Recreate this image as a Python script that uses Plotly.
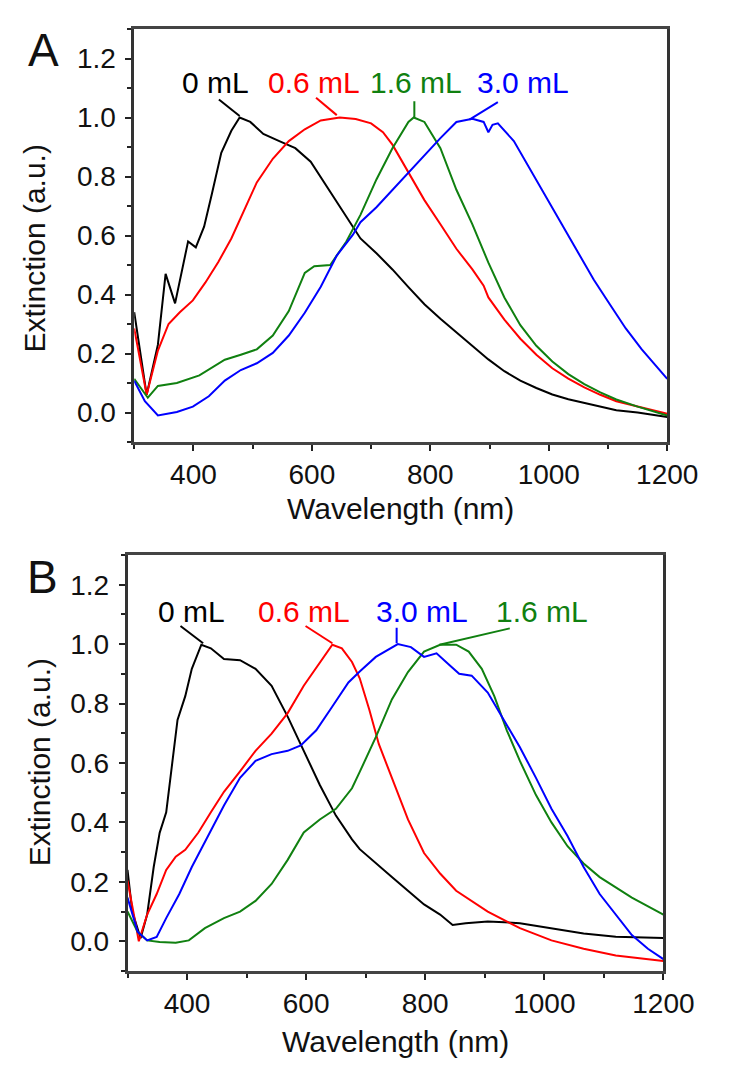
import plotly.graph_objects as go

# ---------------- Panel A data ----------------
a_black_wl = [300, 321, 340, 353, 369, 391, 404, 418, 431, 447, 464, 478, 496, 518, 545, 572, 598, 625, 652, 682,
              709, 736, 763, 790, 817, 844, 871, 898, 925, 952, 979, 1006, 1033, 1060, 1087, 1114, 1150, 1200]
a_black = [0.34, 0.06, 0.23, 0.47, 0.37, 0.58, 0.56, 0.63, 0.74, 0.88, 0.955, 1.0, 0.985, 0.944, 0.92, 0.896, 0.85,
           0.767, 0.685, 0.59, 0.54, 0.485, 0.425, 0.367, 0.318, 0.273, 0.225, 0.18, 0.14, 0.108, 0.083, 0.061,
           0.045, 0.032, 0.02, 0.008, 0.0, -0.015]

a_red_wl = [300, 321, 340, 358, 377, 399, 420, 442, 464, 485, 507, 534, 561, 588, 615, 647, 674, 700, 720, 736, 763,
            790, 817, 844, 871, 890, 898, 905, 925, 952, 979, 1006, 1033, 1060, 1087, 1114, 1150, 1200]
a_red = [0.285, 0.06, 0.21, 0.30, 0.34, 0.38, 0.44, 0.51, 0.59, 0.685, 0.78, 0.86, 0.92, 0.96, 0.99, 1.0, 0.995,
         0.98, 0.95, 0.908, 0.814, 0.72, 0.638, 0.555, 0.485, 0.43, 0.39, 0.37, 0.315, 0.25, 0.196, 0.15, 0.115,
         0.085, 0.06, 0.038, 0.02, -0.004]

a_green_wl = [300, 323, 340, 372, 410, 453, 480, 507, 534, 561, 588, 604, 631, 658, 682, 709, 736, 763, 772, 790,
              817, 844, 871, 898, 925, 952, 979, 1006, 1033, 1060, 1087, 1114, 1150, 1200]
a_green = [0.114, 0.05, 0.09, 0.10, 0.126, 0.179, 0.196, 0.214, 0.261, 0.344, 0.473, 0.496, 0.50, 0.579, 0.67,
           0.79, 0.896, 0.985, 1.0, 0.985, 0.896, 0.755, 0.638, 0.508, 0.39, 0.296, 0.226, 0.173, 0.13, 0.096,
           0.068, 0.044, 0.02, -0.01]

a_blue_wl = [300, 318, 340, 372, 399, 426, 453, 480, 507, 534, 561, 588, 615, 642, 669, 682, 709, 736, 763, 790,
             817, 844, 871, 890, 898, 905, 914, 941, 968, 995, 1022, 1049, 1076, 1103, 1130, 1157, 1200]
a_blue = [0.108, 0.038, -0.01, 0.002, 0.02, 0.055, 0.108, 0.144, 0.167, 0.202, 0.261, 0.338, 0.426, 0.532, 0.602,
          0.645, 0.696, 0.755, 0.814, 0.873, 0.93, 0.985, 0.996, 0.985, 0.95, 0.975, 0.98, 0.92, 0.826, 0.732,
          0.638, 0.544, 0.45, 0.367, 0.285, 0.214, 0.114]

# ---------------- Panel B data ----------------
b_black_wl = [300, 308, 322, 333, 344, 354, 365, 376, 384, 397, 408, 424, 440, 462, 489, 515, 542, 569, 596, 623,
              650, 677, 690, 717, 744, 771, 798, 825, 846, 868, 905, 959, 1012, 1066, 1120, 1200]
b_black = [0.24, 0.10, 0.01, 0.09, 0.25, 0.365, 0.434, 0.607, 0.745, 0.825, 0.917, 0.998, 0.986, 0.95, 0.946,
           0.917, 0.86, 0.756, 0.641, 0.526, 0.423, 0.343, 0.31, 0.262, 0.216, 0.17, 0.124, 0.09, 0.055, 0.061,
           0.067, 0.061, 0.044, 0.026, 0.015, 0.011]

b_red_wl = [300, 311, 319, 333, 349, 365, 381, 397, 419, 440, 462, 489, 515, 542, 569, 596, 623, 644, 660, 677,
            690, 706, 722, 744, 771, 798, 825, 852, 905, 959, 1012, 1066, 1120, 1200]
b_red = [0.205, 0.09, 0.0, 0.09, 0.159, 0.24, 0.285, 0.308, 0.366, 0.434, 0.503, 0.572, 0.641, 0.699, 0.768, 0.86,
         0.94, 0.998, 0.986, 0.94, 0.885, 0.78, 0.664, 0.55, 0.41, 0.297, 0.228, 0.17, 0.10, 0.044, 0.003, -0.025,
         -0.048, -0.066]

b_blue_wl = [300, 317, 333, 349, 365, 387, 408, 435, 462, 489, 515, 542, 569, 591, 617, 644, 671, 690, 717, 754,
             776, 798, 819, 841, 857, 878, 905, 932, 959, 986, 1012, 1039, 1066, 1093, 1120, 1147, 1174, 1200]
b_blue = [0.147, 0.032, 0.003, 0.015, 0.078, 0.159, 0.25, 0.354, 0.457, 0.55, 0.607, 0.63, 0.641, 0.659, 0.71,
          0.79, 0.871, 0.908, 0.957, 1.0, 0.99, 0.957, 0.969, 0.929, 0.9, 0.894, 0.837, 0.745, 0.653, 0.55, 0.446,
          0.354, 0.25, 0.159, 0.09, 0.021, -0.025, -0.06]

b_green_wl = [300, 317, 333, 354, 381, 403, 430, 462, 489, 515, 542, 569, 596, 623, 650, 677, 690, 717, 744, 771,
              798, 825, 852, 873, 895, 916, 937, 959, 986, 1012, 1039, 1066, 1093, 1120, 1147, 1200]
b_green = [0.10, 0.032, 0.003, -0.002, -0.005, 0.003, 0.044, 0.078, 0.10, 0.136, 0.193, 0.274, 0.366, 0.41, 0.446,
           0.515, 0.57, 0.687, 0.814, 0.906, 0.975, 0.998, 0.998, 0.975, 0.917, 0.825, 0.71, 0.607, 0.492, 0.40,
           0.32, 0.262, 0.216, 0.182, 0.147, 0.09]

# ---------------- Labels ----------------
labels = ["0 mL", "0.6 mL", "1.6 mL", "3.0 mL"]
colors = ["#000000", "#ff0000", "#108010", "#0000ff"]

a_label_x = [438, 604, 775, 957]
a_label_y = 1.12
a_leader = [(443, 1.061, 478, 1.005), (607, 1.067, 642, 1.008), (773, 1.055, 773, 1.002), (914, 1.052, 866, 0.993)]

b_label_x = [408, 596, 996, 795]
b_label_y = 1.11
b_leader = [(389, 1.061, 427, 1.003), (599, 1.061, 644, 1.003), (942, 1.053, 824, 0.998), (752, 1.055, 752, 1.003)]

FONT = "Liberation Sans, Arial, sans-serif"

fig = go.Figure()

panel_a = [(a_black_wl, a_black), (a_red_wl, a_red), (a_green_wl, a_green), (a_blue_wl, a_blue)]
panel_b = [(b_black_wl, b_black), (b_red_wl, b_red), (b_green_wl, b_green), (b_blue_wl, b_blue)]

for (x, y), c, name in zip(panel_a, colors, labels):
    fig.add_trace(go.Scatter(x=x, y=y, mode="lines", line=dict(color=c, width=2), name=name,
                             xaxis="x", yaxis="y", showlegend=False))
for (x, y), c, name in zip(panel_b, colors, labels):
    fig.add_trace(go.Scatter(x=x, y=y, mode="lines", line=dict(color=c, width=2), name=name,
                             xaxis="x2", yaxis="y2", showlegend=False))

ann = []
shapes = []
for lx, lead, c, t in zip(a_label_x, a_leader, colors, labels):
    ann.append(dict(x=lx, y=a_label_y, xref="x", yref="y", text=t, showarrow=False,
                    font=dict(size=30, color=c, family=FONT)))
    shapes.append(dict(type="line", xref="x", yref="y", x0=lead[0], y0=lead[1], x1=lead[2], y1=lead[3],
                       line=dict(color=c, width=2)))
for lx, lead, c, t in zip(b_label_x, b_leader, colors, labels):
    ann.append(dict(x=lx, y=b_label_y, xref="x2", yref="y2", text=t, showarrow=False,
                    font=dict(size=30, color=c, family=FONT)))
    shapes.append(dict(type="line", xref="x2", yref="y2", x0=lead[0], y0=lead[1], x1=lead[2], y1=lead[3],
                       line=dict(color=c, width=2)))

# panel letters and axis titles
W, H = 750, 1074
def px(xp, yp):
    return xp / W, 1 - yp / H

for txt, (xp, yp), size, ang in [("A", (45, 50), 46, 0), ("B", (44, 577), 46, 0),
                                  ("Extinction (a.u.)", (37, 248), 30, -90),
                                  ("Extinction (a.u.)", (41, 762), 30, -90),
                                  ("Wavelength (nm)", (418, 508), 30, 0),
                                  ("Wavelength (nm)", (413, 1041), 30, 0)]:
    xx, yy = px(xp, yp)
    ann.append(dict(x=xx, y=yy, xref="paper", yref="paper", text=txt, showarrow=False, textangle=ang,
                    xanchor="center", yanchor="middle", font=dict(size=size, color="#111", family=FONT)))

xaxis_common = dict(range=[300, 1200], tickmode="linear", tick0=0, dtick=200, ticks="outside", ticklen=6,
                    tickwidth=2, tickcolor="#222", showline=True, linecolor="#444", linewidth=2.5, mirror=True,
                    showgrid=False, zeroline=False, tickfont=dict(size=28, color="#111", family=FONT),
                    minor=dict(dtick=100, tick0=0, ticks="outside", ticklen=4, tickwidth=2, tickcolor="#222"))
yaxis_common = dict(range=[-0.1, 1.3], tickmode="linear", tick0=0, dtick=0.2, tickformat=".1f", ticks="outside",
                    ticklen=6, tickwidth=2, tickcolor="#222", showline=True, linecolor="#333", linewidth=2.5,
                    mirror=True, showgrid=False, zeroline=False, ticklabelstandoff=4,
                    tickfont=dict(size=28, color="#111", family=FONT),
                    minor=dict(dtick=0.1, tick0=0, ticks="outside", ticklen=4, tickwidth=2, tickcolor="#222"))

fig.update_layout(
    width=W, height=H, margin=dict(l=0, r=0, t=0, b=0),
    plot_bgcolor="white", paper_bgcolor="white",
    xaxis=dict(domain=[140 / W, 696 / W], anchor="y", **xaxis_common),
    yaxis=dict(domain=[1 - 442 / H, 1 - 29 / H], anchor="x", **yaxis_common),
    xaxis2=dict(domain=[133 / W, 692 / W], anchor="y2", **xaxis_common),
    yaxis2=dict(domain=[1 - 971 / H, 1 - 555 / H], anchor="x2", **yaxis_common),
    annotations=ann, shapes=shapes,
)

fig.write_html("out.html", config={"displayModeBar": False},
               post_script="document.body.style.margin='0';document.body.style.overflow='hidden';")
